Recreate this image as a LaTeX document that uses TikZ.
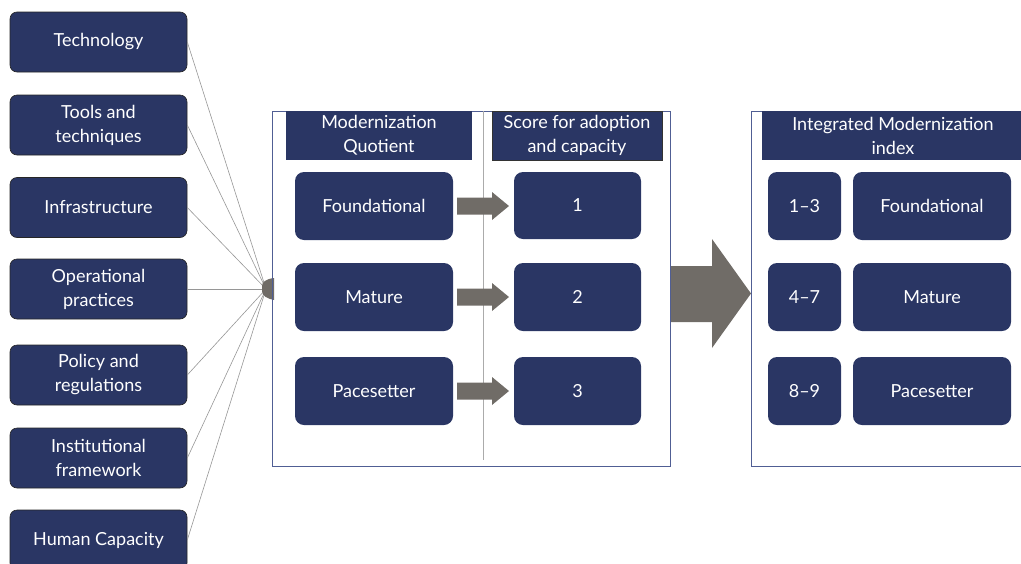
\documentclass[tikz,border=0pt]{standalone}
\usepackage{fontspec}
\setmainfont{Lato}
\begin{document}
\definecolor{navy}{RGB}{42,54,100}
\definecolor{arrowgrey}{RGB}{112,108,103}
\definecolor{panelline}{RGB}{80,94,148}
\definecolor{linkgrey}{RGB}{150,150,150}
\tikzset{
  factor/.style={draw=black!85, line width=0.6pt, fill=navy, rounded corners=7pt, text=white,
    minimum width=177pt, minimum height=60pt, align=center, font=\fontsize{18}{24}\selectfont},
  level/.style={fill=navy, rounded corners=9pt, text=white, align=center,
    font=\fontsize{18}{24}\selectfont},
  header/.style={fill=navy, text=white, align=center, minimum height=49pt,
    font=\fontsize{18}{24}\selectfont},
  panel/.style={draw=panelline, line width=1pt},
  link/.style={draw=linkgrey, line width=0.6pt},
  blockarrow/.style={fill=arrowgrey}
}
\begin{tikzpicture}[x=1pt,y=-1pt]
\useasboundingbox (0,0) rectangle (1021,563);

% input factors
\node[factor] (f1) at (98.5,42) {Technology};
\node[factor] (f2) at (98.5,125) {Tools and\\techniques};
\node[factor] (f3) at (98.5,207.5) {Infrastructure};
\node[factor] (f4) at (98.5,289) {Operational\\practices};
\node[factor] (f5) at (98.5,375) {Policy and\\regulations};
\node[factor] (f6) at (98.5,458) {Institutional\\framework};
\node[factor] (f7) at (98.5,540) {Human Capacity};

% converging links
\coordinate (hub) at (266,289);
\foreach \i in {1,...,7} \draw[link] (f\i.east) -- (hub);
\fill[arrowgrey] (274,278) -- (274,300) .. controls (268,299) and (262,296) .. (262,291)
  -- (262,286) .. controls (262,282) and (266,279) .. (274,278) -- cycle;

% Modernization Quotient panel
\draw[panel] (272,111) rectangle (670,466);
\draw[linkgrey!80, line width=0.8pt] (483,111) -- (483,460);
\node[header, minimum width=186pt] (h1) at (379,135.5) {Modernization\\Quotient};
\node[header, draw=black!80, line width=0.6pt, minimum width=170pt] (h2) at (577,135.5) {Score for adoption\\and capacity};

\node[level, minimum width=158pt, minimum height=68pt] (q1) at (374,206) {Foundational};
\node[level, minimum width=158pt, minimum height=68pt] (q2) at (374,297) {Mature};
\node[level, minimum width=158pt, minimum height=68pt] (q3) at (374,391) {Pacesetter};
\node[level, minimum width=127pt, minimum height=67pt] (s1) at (577.5,205.5) {1};
\node[level, minimum width=127pt, minimum height=68pt] (s2) at (577.5,297) {2};
\node[level, minimum width=127pt, minimum height=68pt] (s3) at (577.5,391) {3};

% small block arrows between level and score
\foreach \y in {206,297,391}{
  \fill[blockarrow] (457,\y-8.5) -- (492,\y-8.5) -- (492,\y-14) -- (509,\y)
    -- (492,\y+14) -- (492,\y+8.5) -- (457,\y+8.5) -- cycle;
}

% large block arrow
\fill[blockarrow] (671,266) -- (712,266) -- (712,239) -- (751,293.5) -- (712,348)
  -- (712,322) -- (671,322) -- cycle;

% Integrated Modernization index panel
\draw[panel] (1025,466) -- (751,466) -- (751,111) -- (1025,111);
\node[header, minimum width=262pt] (h3) at (893,135.5) {Integrated Modernization\\index};

\node[level, minimum width=73pt, minimum height=68pt] (r1) at (804.5,206) {1–3};
\node[level, minimum width=73pt, minimum height=68pt] (r2) at (804.5,297) {4–7};
\node[level, minimum width=73pt, minimum height=68pt] (r3) at (804.5,391) {8–9};
\node[level, minimum width=158pt, minimum height=68pt] (i1) at (932,206) {Foundational};
\node[level, minimum width=158pt, minimum height=68pt] (i2) at (932,297) {Mature};
\node[level, minimum width=158pt, minimum height=68pt] (i3) at (932,391) {Pacesetter};
\end{tikzpicture}
\end{document}
